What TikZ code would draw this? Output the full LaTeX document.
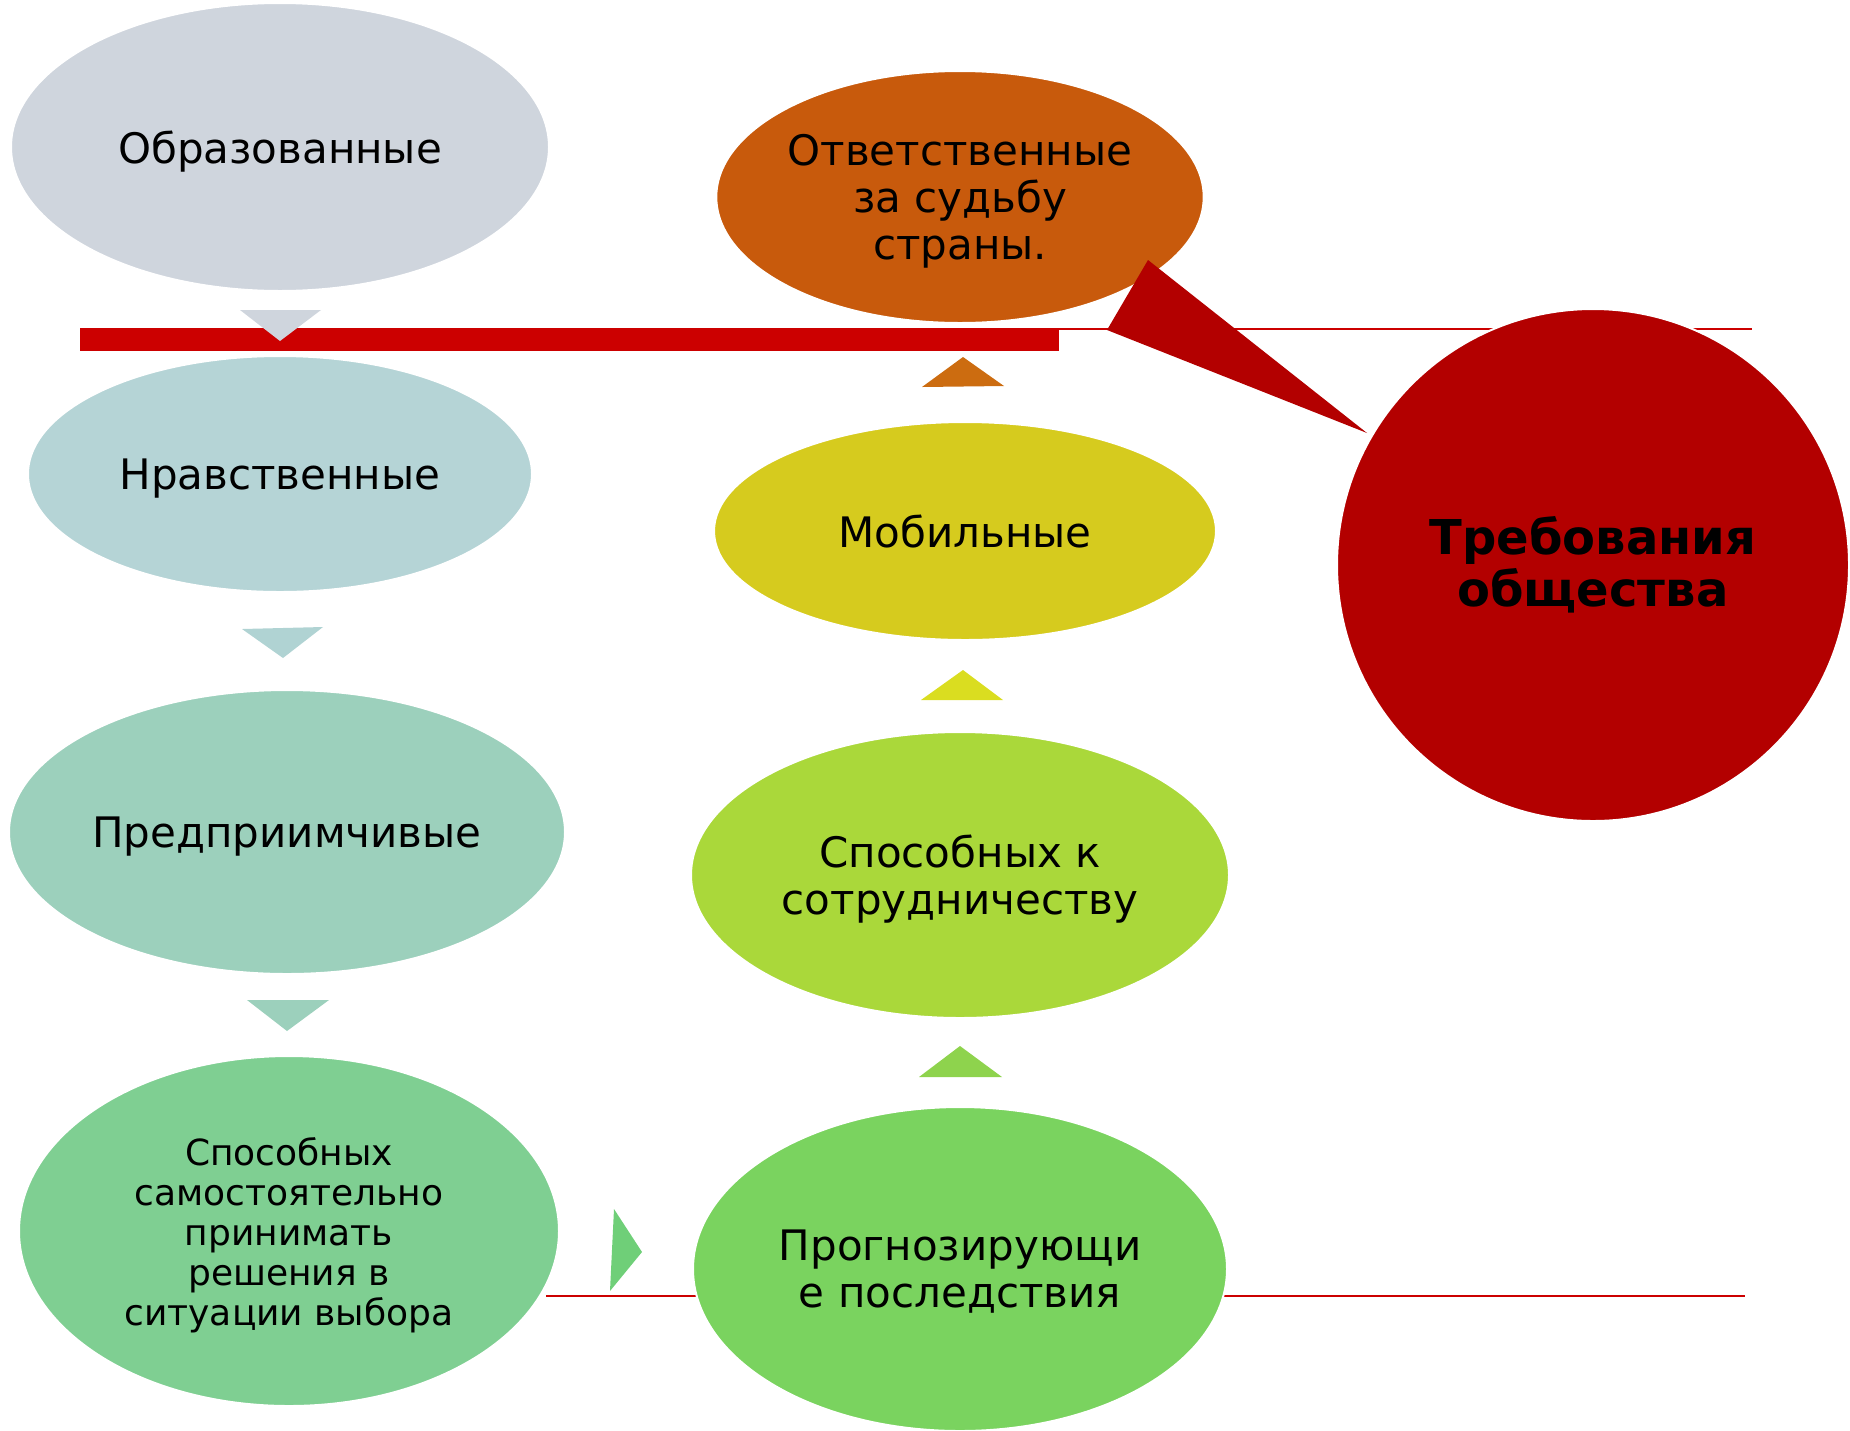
\documentclass[tikz,border=0pt]{standalone}
\usepackage{fontspec}
\setmainfont{DejaVu Sans}
\usetikzlibrary{shapes.geometric}

\definecolor{cObraz}{RGB}{207,213,221}
\definecolor{cNrav}{RGB}{181,212,214}
\definecolor{cPred}{RGB}{156,208,188}
\definecolor{cSam}{RGB}{127,207,146}
\definecolor{cProg}{RGB}{122,211,95}
\definecolor{cSotr}{RGB}{170,216,58}
\definecolor{cMob}{RGB}{214,203,30}
\definecolor{cOtv}{RGB}{200,90,12}
\definecolor{cTreb}{RGB}{179,0,0}
\definecolor{cBar}{RGB}{204,0,0}

\tikzset{
  oval/.style={ellipse, draw=white, line width=1pt, inner sep=0pt, align=center, text depth=0pt,
    font=\fontsize{21}{23.5}\selectfont},
}

\begin{document}
\begin{tikzpicture}[x=0.5pt,y=0.5pt,yscale=-1,xscale=1]
\useasboundingbox (0,0) rectangle (1850,1430);

%Straight Lines
\coordinate (topL) at (1059,329);
\coordinate (topR) at (1752,329);
\draw [color=cBar, line width=1pt] (topL) -- (topR);
\coordinate (botL) at (546,1296);
\coordinate (botR) at (1745,1296);
\draw [color=cBar, line width=1pt] (botL) -- (botR);

%Shape: Rectangle
\fill [cBar] (80,328) rectangle (1059,351);

%Left column
\node [oval, fill=cObraz, minimum width=269pt, minimum height=144pt] (obraz) at (280,147) {Образованные};
\node [oval, fill=cNrav, minimum width=252pt, minimum height=118pt] (nrav) at (280,474) {Нравственные};
\node [oval, fill=cPred, minimum width=278pt, minimum height=142pt] (pred) at (287,832) {Предприимчивые};
\node [oval, fill=cSam, minimum width=270pt, minimum height=175pt,
  font=\fontsize{18}{20}\selectfont] (sam) at (289,1231) {Способных\\самостоятельно\\принимать\\решения в\\ситуации выбора};

%Right column
\node [oval, fill=cProg, minimum width=267pt, minimum height=162pt] (prog) at (960,1269) {Прогнозирующи\\е последствия};
\node [oval, fill=cSotr, minimum width=269pt, minimum height=143pt] (sotr) at (960,875) {Способных к\\сотрудничеству};
\node [oval, fill=cMob, minimum width=251pt, minimum height=109pt] (mob) at (965,531) {Мобильные};
\node [oval, fill=cOtv, minimum width=242pt, minimum height=126pt] (otv) at (960,197) {Ответственные\\за судьбу\\страны.};

%Shape: Triangle
\fill [color=cObraz] (240,310) -- (321,310) -- (280,341) -- cycle;
\fill [color={rgb, 255:red, 176; green, 211; blue, 211}] (242,629) -- (323,627) -- (283,658) -- cycle;
\fill [color=cPred] (247,1000) -- (329,1000) -- (287,1031) -- cycle;
\fill [color={rgb, 255:red, 111; green, 207; blue, 120}] (614,1209) -- (642,1252) -- (610,1291) -- cycle;
\fill [color={rgb, 255:red, 142; green, 211; blue, 77}] (919,1077) -- (1002,1077) -- (960,1046) -- cycle;
\fill [color={rgb, 255:red, 218; green, 221; blue, 32}] (921,700) -- (1003,700) -- (963,670) -- cycle;
\fill [color={rgb, 255:red, 204; green, 108; blue, 16}] (922,387) -- (1004,386) -- (963,357) -- cycle;

%Callout
\fill [color=cTreb] (1148,260) -- (1107,330) -- (1367,433) -- cycle;
\node [circle, fill=cTreb, draw=white, line width=1pt, inner sep=0pt, minimum size=256pt,
  align=center, font=\fontsize{24}{26}\selectfont\bfseries] (treb) at (1593,565) {Требования\\общества};

\end{tikzpicture}
\end{document}
